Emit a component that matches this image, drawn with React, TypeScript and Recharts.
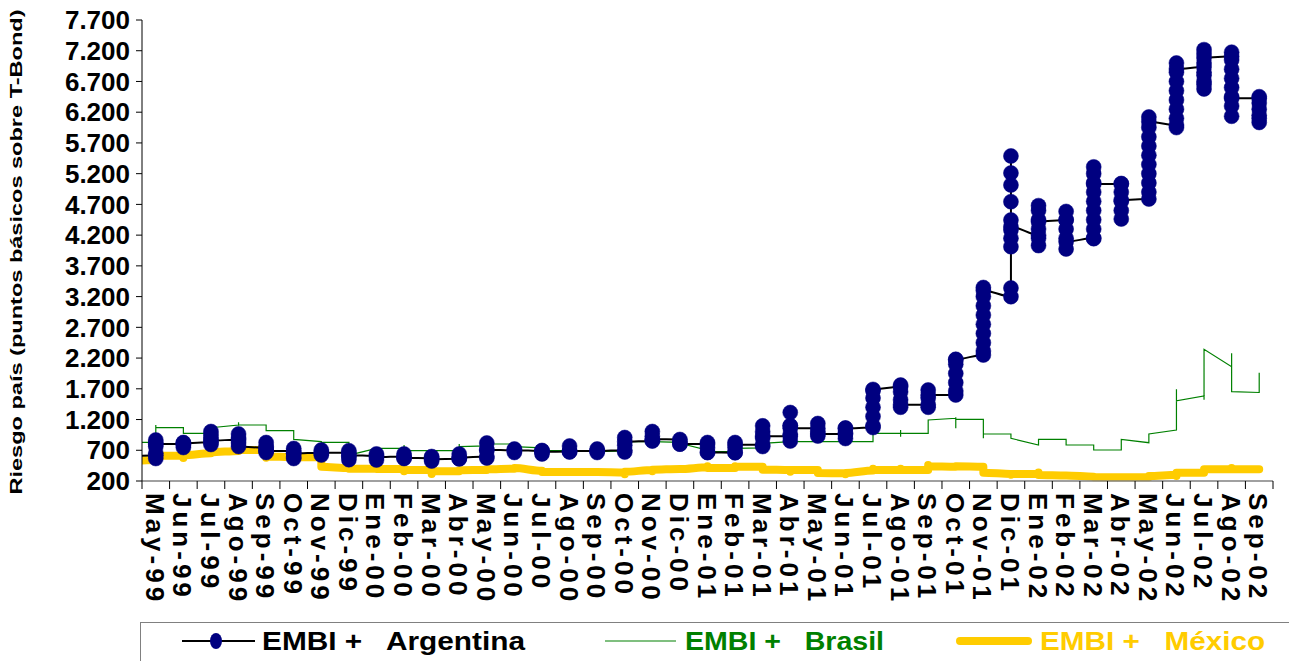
import React from 'react';
import { LineChart, Line, XAxis, YAxis } from 'recharts';

const months = ['May-99','Jun-99','Jul-99','Ago-99','Sep-99','Oct-99','Nov-99','Dic-99','Ene-00','Feb-00','Mar-00','Abr-00','May-00','Jun-00','Jul-00','Ago-00','Sep-00','Oct-00','Nov-00','Dic-00','Ene-01','Feb-01','Mar-01','Abr-01','May-01','Jun-01','Jul-01','Ago-01','Sep-01','Oct-01','Nov-01','Dic-01','Ene-02','Feb-02','Mar-02','Abr-02','May-02','Jun-02','Jul-02','Ago-02','Sep-02'];

const yTicks = [200, 700, 1200, 1700, 2200, 2700, 3200, 3700, 4200, 4700, 5200, 5700, 6200, 6700, 7200, 7700];

// readings of the month before May-99 (only the line leaving the left edge is visible)
const argentinaPrev = [600];
const brasilPrev = [830];
const mexicoPrev = [530];

// daily readings grouped by month (all plotted at the month's position)
const argentina: number[][] = [
  [620, 566, 650, 760, 867, 820, 800],
  [800, 745, 790, 826, 818],
  [830, 794, 900, 1005, 950, 860],
  [870, 965, 900, 820, 761],
  [740, 826, 760, 700, 664, 690],
  [690, 729, 650, 590, 566, 650],
  [660, 704, 623, 660],
  [660, 693, 600, 547, 620],
  [610, 640, 542, 590],
  [600, 640, 566, 575],
  [570, 598, 525, 555],
  [560, 566, 640, 580],
  [600, 574, 700, 818, 710],
  [700, 720, 664, 700],
  [690, 696, 640, 675],
  [680, 769, 672, 690],
  [690, 720, 664, 690],
  [700, 672, 780, 907, 840],
  [850, 1005, 930, 859, 880],
  [875, 840, 802, 800],
  [800, 826, 740, 664, 665],
  [660, 664, 740, 826, 790],
  [790, 761, 900, 1000, 1097, 930],
  [930, 1100, 1314, 1100, 960, 851, 1060],
  [1057, 1135, 1000, 932, 965],
  [965, 891, 980, 1062, 1057],
  [1070, 1100, 1250, 1400, 1550, 1670, 1690],
  [1735, 1760, 1650, 1520, 1400, 1440],
  [1440, 1400, 1550, 1680, 1600],
  [1600, 1665, 1800, 1950, 2100, 2170, 2180],
  [2250, 2315, 2450, 2600, 2750, 2900, 3050, 3200, 3348, 3300],
  [3199, 3340, 4012, 4150, 4284, 4446, 4744, 5016, 5211, 5488, 4337],
  [4200, 4030, 4150, 4300, 4450, 4600, 4680, 4419],
  [4446, 4585, 4450, 4300, 4150, 3975, 4093],
  [4153, 4143, 4300, 4450, 4600, 4750, 4900, 5050, 5200, 5310, 5032],
  [5032, 5040, 4900, 4750, 4600, 4463, 4772],
  [4788, 4900, 5050, 5200, 5350, 5500, 5650, 5800, 5950, 6122, 6045],
  [5990, 5950, 6100, 6250, 6400, 6550, 6700, 6850, 7000, 6904],
  [6937, 6800, 6650, 6578, 6700, 6850, 7000, 7150, 7218, 7083],
  [7110, 7176, 7050, 6900, 6750, 6600, 6450, 6300, 6134, 6426],
  [6426, 6452, 6350, 6250, 6150, 6033, 6100],
];

const brasil: number[][] = [
  [830, 1000, 1111, 1067],
  [1067, 976],
  [976, 1067],
  [1111, 1155, 1090, 1111],
  [1111, 1018],
  [1018, 878],
  [840, 830],
  [830, 700, 620],
  [732],
  [732, 786, 693],
  [693],
  [693, 802, 758],
  [770, 802],
  [802, 760],
  [740, 693],
  [693],
  [690, 677],
  [690, 760, 840],
  [840],
  [830, 812],
  [700, 677],
  [677, 732],
  [740, 812],
  [840],
  [840],
  [840],
  [840, 976],
  [976, 1030, 920, 976],
  [976, 1192],
  [1220, 1236, 1060, 1204],
  [1204, 976, 895, 965],
  [965, 895],
  [786, 878],
  [878, 786],
  [786, 704],
  [704, 878],
  [823, 965],
  [1030, 1692, 1506],
  [1583, 1520, 1735, 2343],
  [2060, 2278, 1653],
  [1640, 1962, 1680, 1700],
];

const mexico: number[][] = [
  [540, 612],
  [612, 575, 620],
  [650, 667],
  [690, 704],
  [704, 580, 600],
  [590, 585],
  [585, 450, 430],
  [410, 400],
  [400, 395],
  [395, 360, 380],
  [379, 315, 360],
  [360, 375],
  [380, 390],
  [400, 411],
  [365, 345],
  [346],
  [346],
  [340, 309, 350],
  [379, 360, 385],
  [395],
  [423, 440, 410],
  [410, 440, 433],
  [433, 400, 385],
  [379, 352, 379],
  [379, 352, 330],
  [325, 309, 330],
  [370, 400, 380],
  [380, 400, 380],
  [380, 460, 440],
  [433, 440],
  [433, 335],
  [314, 300, 314],
  [314, 340, 298],
  [290],
  [270, 260],
  [260],
  [262, 270, 280],
  [300, 280, 335],
  [335, 390],
  [390, 410, 390],
  [390],
];

type Pt = { x: number; y: number };
const toPoints = (prev: number[], groups: number[][]): Pt[] => {
  const out: Pt[] = prev.map((v) => ({ x: -1, y: v }));
  groups.forEach((g, i) => g.forEach((v) => out.push({ x: i, y: v })));
  return out;
};

const argData = toPoints(argentinaPrev, argentina);
const braData = toPoints(brasilPrev, brasil);
const mexData = toPoints(mexicoPrev, mexico);

const W = 1289;
const H = 661;
const FONT = "'Liberation Sans', Arial, Helvetica, sans-serif";
const MARGIN = { top: 20, right: 16, bottom: 40, left: 0 };
const YAXIS_W = 142;
const PLOT_W = W - MARGIN.left - MARGIN.right - YAXIS_W;
const STEP = PLOT_W / months.length;

const NAVY = '#000080';
const GREEN = '#008000';
const YELLOW = '#FFCC00';

// gentle smoothed line (like a spreadsheet "smoothed line"): vertical runs stay straight
const softCurve = (context: any) => {
  const K = 0.3;
  let px = NaN;
  let py = NaN;
  let started = false;
  return {
    areaStart() {},
    areaEnd() {},
    lineStart() {
      started = false;
    },
    lineEnd() {},
    point(x: number, y: number) {
      x = +x;
      y = +y;
      if (!started) {
        started = true;
        context.moveTo(x, y);
      } else {
        const dx = x - px;
        if (Math.abs(dx) < 1e-6) context.lineTo(x, y);
        else context.bezierCurveTo(px + dx * K, py, x - dx * K, y, x, y);
      }
      px = x;
      py = y;
    },
  };
};

const fmt = (v: number) =>
  v >= 1000 ? `${Math.floor(v / 1000)}.${String(v % 1000).padStart(3, '0')}` : String(v);

const XTick = (props: any) => {
  const { x, y, payload } = props;
  const i = payload.value as number;
  return (
    <g>
      <line x1={x - STEP / 2} x2={x - STEP / 2} y1={y} y2={y + 8} stroke="#000" strokeWidth={1} />
      {i === months.length - 1 && (
        <line x1={x + STEP / 2} x2={x + STEP / 2} y1={y} y2={y + 8} stroke="#000" strokeWidth={1} />
      )}
      <text
        transform={`translate(${x - 1},${y + 12}) rotate(90)`}
        textAnchor="start"
        dominantBaseline="central"
        fontFamily={FONT}
        fontWeight="bold"
        fontSize={26}
        letterSpacing={4}
        fill="#000"
      >
        {months[i]}
      </text>
    </g>
  );
};

const ArgDot = (props: any) => {
  const { cx, cy, payload, index } = props;
  if (payload.x < 0 || cx == null) return <g key={`d${index}`} />;
  return <circle key={`d${index}`} cx={cx} cy={cy} r={7.5} fill={NAVY} stroke={NAVY} strokeWidth={0.5} />;
};

const xTicks = months.map((_, i) => i);

export default function App() {
  return (
    <div style={{ position: 'absolute', left: 0, top: 0, width: W, height: H, background: '#fff' }}>
      <LineChart width={W} height={H} margin={MARGIN}>
        <XAxis
          type="number"
          dataKey="x"
          domain={[-0.5, months.length - 0.5]}
          allowDataOverflow
          ticks={xTicks}
          interval={0}
          height={140}
          tickSize={0}
          tickMargin={0}
          tickLine={false}
          axisLine={{ stroke: '#808080', strokeWidth: 1.5 }}
          tick={<XTick />}
        />
        <YAxis
          type="number"
          domain={[200, 7700]}
          ticks={yTicks}
          interval={0}
          width={YAXIS_W}
          tickSize={6}
          tickMargin={6}
          tickFormatter={fmt}
          axisLine={{ stroke: '#000' }}
          tickLine={{ stroke: '#000' }}
          tick={{ fontFamily: FONT, fontWeight: 'bold', fontSize: 26, fill: '#000' }}
        />
        <Line
          data={mexData}
          dataKey="y"
          type={softCurve as any}
          stroke={YELLOW}
          strokeWidth={8}
          strokeLinecap="round"
          strokeLinejoin="round"
          dot={false}
          activeDot={false}
          isAnimationActive={false}
        />
        <Line
          data={braData}
          dataKey="y"
          type="linear"
          stroke={GREEN}
          strokeWidth={1.2}
          dot={false}
          activeDot={false}
          isAnimationActive={false}
        />
        <Line
          data={argData}
          dataKey="y"
          type={softCurve as any}
          stroke="#000"
          strokeWidth={2}
          dot={<ArgDot />}
          activeDot={false}
          isAnimationActive={false}
        />
      </LineChart>
      <svg
        width={W}
        height={H}
        style={{ position: 'absolute', left: 0, top: 0, pointerEvents: 'none' }}
      >
        <text
          transform="translate(16,252) rotate(-90)"
          textAnchor="middle"
          dominantBaseline="central"
          fontFamily={FONT}
          fontWeight="bold"
          fontSize={16}
          textLength={485}
          lengthAdjust="spacingAndGlyphs"
          fill="#000"
        >
          Riesgo país (puntos básicos sobre T-Bond)
        </text>
        <rect x={140.5} y={622.5} width={1200} height={80} fill="none" stroke="#808080" strokeWidth={1} />
        <line x1={182} x2={255} y1={641} y2={641} stroke="#000" strokeWidth={2} />
        <ellipse cx={216} cy={641} rx={6} ry={8} fill={NAVY} />
        <text x={262} y={650} fontFamily={FONT} fontWeight="bold" fontSize={25} fill="#000"
          textLength={263} lengthAdjust="spacingAndGlyphs" style={{ whiteSpace: 'pre' }}>
          {'EMBI +   Argentina'}
        </text>
        <line x1={605} x2={676} y1={641} y2={641} stroke={GREEN} strokeWidth={1.2} />
        <text x={685} y={650} fontFamily={FONT} fontWeight="bold" fontSize={25} fill={GREEN}
          textLength={199} lengthAdjust="spacingAndGlyphs" style={{ whiteSpace: 'pre' }}>
          {'EMBI +   Brasil'}
        </text>
        <line x1={960} x2={1028} y1={641} y2={641} stroke={YELLOW} strokeWidth={8} strokeLinecap="round" />
        <text x={1040} y={650} fontFamily={FONT} fontWeight="bold" fontSize={25} fill={YELLOW}
          textLength={225} lengthAdjust="spacingAndGlyphs" style={{ whiteSpace: 'pre' }}>
          {'EMBI +   México'}
        </text>
      </svg>
    </div>
  );
}
